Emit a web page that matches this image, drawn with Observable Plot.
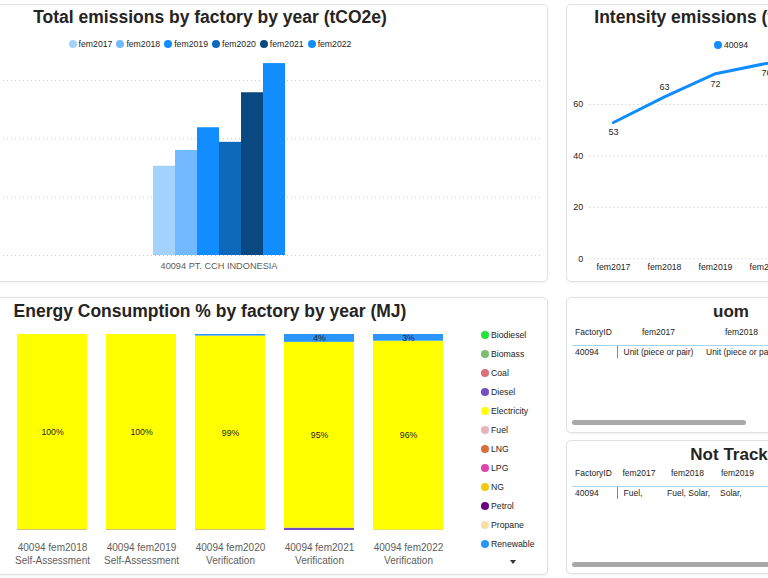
<!DOCTYPE html>
<html>
<head>
<meta charset="utf-8">
<script src="https://cdn.jsdelivr.net/npm/d3@7"></script>
<script src="https://cdn.jsdelivr.net/npm/@observablehq/plot@0.6"></script>
<style>
html, body { margin:0; padding:0; background:#fff; }
#root { position:relative; width:768px; height:578px; overflow:hidden; font-family:"Liberation Sans", Arial, sans-serif; color:#252423; }
.panel { position:absolute; box-sizing:border-box; background:#fff; border:1px solid #e1e1e1; border-radius:5px; overflow:hidden; box-shadow:0 1px 2px rgba(0,0,0,0.06); }
.panel > svg { position:absolute; left:0; top:0; }
.title { position:absolute; left:0; right:0; text-align:center; font-weight:bold; color:#252423; white-space:nowrap; }
.legend-h { position:absolute; left:0; right:0; display:flex; justify-content:center; align-items:center; gap:4px; height:10px; font-size:8.7px; white-space:nowrap; color:#252423; }
.legend-h .item { display:flex; align-items:center; gap:2px; }
.dot { display:inline-block; width:8px; height:8px; border-radius:50%; flex:none; }
.legend-v { position:absolute; font-size:8.7px; color:#252423; }
.legend-v .item { display:flex; align-items:center; gap:2px; height:19.03px; white-space:nowrap; }
.arrow { position:absolute; width:0; height:0; border-left:3.5px solid transparent; border-right:3.5px solid transparent; border-top:4px solid #333; }
table.grid { position:absolute; border-collapse:collapse; table-layout:fixed; font-size:8.5px; color:#252423; }
table.grid th { font-weight:normal; height:23px; line-height:20px; vertical-align:top; text-align:center; padding:0; border-bottom:1px solid #a6d2f7; white-space:nowrap; overflow:hidden; }
table.grid th:first-child { text-align:left; padding-left:3px; }
table.grid td { height:12px; line-height:12px; padding:0 0 0 6px; white-space:nowrap; overflow:hidden; vertical-align:middle; }
table.grid td:first-child { padding-left:3px; }
table.grid td:nth-child(2) { border-left:1px solid #3a9cf5; }
.scroll { position:absolute; height:5px; border-radius:3px; background:#a8a8a8; }
</style>
</head>
<body>
<div id="root"></div>
<script>
// ---------- data ----------
const factoryId = "40094";
const factoryName = "40094 PT. CCH INDONESIA";
const years = ["fem2017", "fem2018", "fem2019", "fem2020", "fem2021", "fem2022"];
const yearColors = ["#a3d2ff", "#72b9ff", "#118dff", "#0e69bd", "#0a4882", "#118dff"];
const totalEmissions = [1530, 1800, 2190, 1940, 2790, 3290];
const emissionTicks = [0, 1000, 2000, 3000];

const intensity = [53, 63, 72, 76, 78, 75];
const intensityTicks = [0, 20, 40, 60];
const intensitySeries = "40094";

const energyYears = ["fem2018", "fem2019", "fem2020", "fem2021", "fem2022"];
const energyTypes = ["Self-Assessment", "Self-Assessment", "Verification", "Verification", "Verification"];
const fuelTypes = ["Biodiesel", "Biomass", "Coal", "Diesel", "Electricity", "Fuel", "LNG", "LPG", "NG", "Petrol", "Propane", "Renewable"];
const fuelColors = ["#25e23a", "#7dbf6e", "#d9707b", "#744ec2", "#ffff00", "#e8b4bc", "#d9703a", "#e044a7", "#f2c80f", "#6b007b", "#f5dfa8", "#2b95fb"];
const dieselPct = [0.3, 0.3, 0.3, 1.2, 0.2];
const electricityPct = [99.7, 99.7, 98.9, 94.8, 96.4];
const renewablePct = [0, 0, 0.8, 4.0, 3.4];

const uomValues = ["Unit (piece or pair)", "Unit (piece or pair)", "Unit (piece or pair)", "Unit (piece or pair)", "Unit (piece or pair)", "Unit (piece or pair)"];
const notTrackedValues = ["Fuel,", "Fuel, Solar,", "Solar,", "", "", ""];

// ---------- layout helpers ----------
const FONT = '"Liberation Sans", Arial, sans-serif';
const root = document.getElementById("root");
function panel(left, top, width, height) {
  const el = document.createElement("div");
  el.className = "panel";
  Object.assign(el.style, {left: left + "px", top: top + "px", width: width + "px", height: height + "px"});
  root.appendChild(el);
  return el;
}
function title(p, text, top, size, shift = 0) {
  const el = document.createElement("div");
  el.className = "title";
  el.textContent = text;
  Object.assign(el.style, {top: top + "px", fontSize: size + "px", lineHeight: size + "px", left: (2 * shift) + "px"});
  p.appendChild(el);
}
function hLegend(p, names, colors, top) {
  const el = document.createElement("div");
  el.className = "legend-h";
  el.style.top = top + "px";
  names.forEach((n, i) => {
    const it = document.createElement("span");
    it.className = "item";
    it.innerHTML = `<span class="dot" style="background:${colors[i]}"></span><span>${n}</span>`;
    el.appendChild(it);
  });
  p.appendChild(el);
}

// ---------- Panel 1: Total emissions ----------
const p1 = panel(-128, 4, 676, 278);
title(p1, "Total emissions by factory by year (tCO2e)", 4.2, 17.5);
hLegend(p1, years, yearColors, 34);
const d1 = years.map((y, i) => ({factory: factoryName, year: y, value: totalEmissions[i]}));
p1.appendChild(Plot.plot({
  width: 674, height: 276,
  marginLeft: 22, marginRight: 5, marginTop: 45.83, marginBottom: 26,
  style: {fontFamily: FONT, fontSize: "9.2px", color: "#605e5c", background: "transparent", overflow: "visible"},
  fx: {domain: [factoryName], padding: 0, label: null, axis: "bottom", tickSize: 0, tickPadding: 6.8},
  x: {domain: years, paddingInner: 0, paddingOuter: 11.38, axis: null},
  y: {domain: [0, 3500], axis: null},
  color: {domain: years, range: yearColors},
  marks: [
    Plot.gridY(emissionTicks, {stroke: "#c8c6c4", strokeOpacity: 1, strokeDasharray: "1,3"}),
    Plot.barY(d1, {fx: "factory", x: "year", y: "value", fill: "year"})
  ]
}));

// ---------- Panel 2: Intensity emissions ----------
const p2 = panel(566, 4, 330, 278);
title(p2, "Intensity emissions (tCO2e/unit)", 4.2, 17.5, -3);
hLegend(p2, [intensitySeries], ["#118dff"], 35);
const d2 = years.map((y, i) => ({year: y, value: intensity[i]}));
p2.appendChild(Plot.plot({
  width: 328, height: 276,
  marginLeft: 22.3, marginRight: 4.1, marginTop: 47.6, marginBottom: 22.7,
  style: {fontFamily: FONT, fontSize: "8.7px", color: "#252423", background: "transparent", overflow: "visible"},
  x: {type: "point", domain: years, padding: 0.4},
  y: {domain: [0, 80]},
  marks: [
    Plot.gridY(intensityTicks, {stroke: "#c8c6c4", strokeOpacity: 1, strokeDasharray: "1,3"}),
    Plot.axisY(intensityTicks, {tickSize: 0, tickPadding: 6.5, label: null, fontSize: 9, fill: "#252423"}),
    Plot.axisX({tickSize: 0, tickPadding: 5.3, label: null, fill: "#252423"}),
    Plot.line(d2, {x: "year", y: "value", stroke: "#118dff", strokeWidth: 3}),
    Plot.text(d2, {filter: d => d.year !== "fem2018", x: "year", y: "value", text: d => String(d.value), dy: 10, fill: "#252423", fontSize: 9}),
    Plot.text(d2, {filter: d => d.year === "fem2018", x: "year", y: "value", text: d => String(d.value), dy: -10, fill: "#252423", fontSize: 9})
  ]
}));

// ---------- Panel 3: Energy consumption ----------
const p3 = panel(-128, 297, 676, 278);
title(p3, "Energy Consumption % by factory by year (MJ)", 4.9, 17.5);
const d3rows = [];
energyYears.forEach((y, i) => {
  d3rows.push({year: y, fuel: "Diesel", value: dieselPct[i]});
  d3rows.push({year: y, fuel: "Electricity", value: electricityPct[i]});
  d3rows.push({year: y, fuel: "Renewable", value: renewablePct[i]});
});
const energyLabel = y => { const i = energyYears.indexOf(y); return `${factoryId} ${y}\n${energyTypes[i]}`; };
p3.appendChild(Plot.plot({
  width: 674, height: 276,
  marginLeft: 134.8, marginRight: 94.8, marginTop: 36, marginBottom: 44,
  style: {fontFamily: FONT, fontSize: "10px", color: "#605e5c", background: "transparent", overflow: "visible"},
  x: {domain: energyYears, paddingInner: 0.2175, paddingOuter: 0.1},
  y: {domain: [0, 100], axis: null},
  color: {domain: fuelTypes, range: fuelColors},
  marks: [
    Plot.barY(d3rows, {x: "year", y: "value", fill: "fuel", order: fuelTypes}),
    Plot.text(d3rows, Plot.stackY({x: "year", y: "value", z: "fuel", order: fuelTypes,
      text: d => d.value >= 2 ? Math.round(d.value) + "%" : "", fill: "#252423", fontSize: 8.7})),
    Plot.axisX({tickSize: 0, tickPadding: 12, label: null, tickFormat: energyLabel, lineHeight: 1.26, fill: "#605e5c"})
  ]
}));
const lg = document.createElement("div");
lg.className = "legend-v";
Object.assign(lg.style, {left: "608px", top: "27.5px"});
fuelTypes.forEach((f, i) => {
  const it = document.createElement("div");
  it.className = "item";
  it.innerHTML = `<span class="dot" style="background:${fuelColors[i]}"></span><span>${f}</span>`;
  lg.appendChild(it);
});
p3.appendChild(lg);
const arrow = document.createElement("div");
arrow.className = "arrow";
Object.assign(arrow.style, {left: "636.5px", top: "262px"});
p3.appendChild(arrow);

// ---------- Tables ----------
function table(p, headers, values, widths, top) {
  const t = document.createElement("table");
  t.className = "grid";
  t.style.left = "5px";
  t.style.top = top + "px";
  t.style.width = widths.reduce((a, b) => a + b, 0) + "px";
  const cg = document.createElement("colgroup");
  widths.forEach(w => { const c = document.createElement("col"); c.style.width = w + "px"; cg.appendChild(c); });
  t.appendChild(cg);
  const hr = document.createElement("tr");
  headers.forEach(h => { const th = document.createElement("th"); th.textContent = h; hr.appendChild(th); });
  t.appendChild(hr);
  const br = document.createElement("tr");
  [factoryId, ...values].forEach(v => { const td = document.createElement("td"); td.textContent = v; br.appendChild(td); });
  t.appendChild(br);
  p.appendChild(t);
}
function scroll(p, left, top, width) {
  const s = document.createElement("div");
  s.className = "scroll";
  Object.assign(s.style, {left: left + "px", top: top + "px", width: width + "px"});
  p.appendChild(s);
}
const p4 = panel(566, 297, 330, 136);
title(p4, "uom", 5.3, 17);
table(p4, ["FactoryID", ...years], uomValues, [45, 83, 83, 83, 83, 83, 83], 24);
scroll(p4, 5, 122, 174);

const p5 = panel(566, 440, 330, 134);
title(p5, "Not Tracked", 4.6, 17, 8);
table(p5, ["FactoryID", ...years], notTrackedValues, [45, 44, 53, 47, 50, 50, 50], 22);
scroll(p5, 5, 121, 300);
</script>
</body>
</html>
